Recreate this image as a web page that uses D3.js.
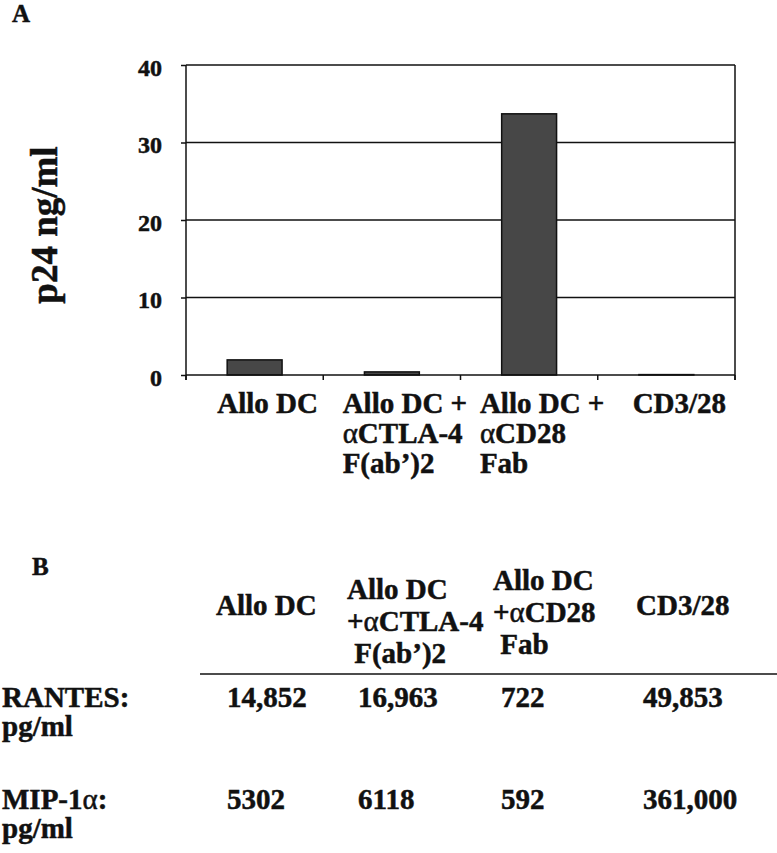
<!DOCTYPE html>
<html>
<head>
<meta charset="utf-8">
<script src="https://cdn.jsdelivr.net/npm/d3@7"></script>
<style>
  body { margin: 0; background: #fff; }
  svg { display: block; }
</style>
</head>
<body>
<script>
// panel A data
var categories = ["alloDC", "ctla4", "cd28", "cd3"];
var axisLabels = [["Allo DC"], ["Allo DC +", "αCTLA-4", "F(ab’)2"], ["Allo DC +", "αCD28", "Fab"], ["CD3/28"]];
var p24 = [1.95, 0.4, 33.7, 0.05];
var yTicks = [0, 10, 20, 30, 40];

// panel B data
var tableHeaders = [["Allo DC"], ["Allo DC", "+αCTLA-4", "\u00a0F(ab’)2"], ["Allo DC", "+αCD28", "\u00a0Fab"], ["CD3/28"]];
var rowLabels = [["RANTES:", "pg/ml"], ["MIP-1α:", "pg/ml"]];
var rantes = [14852, 16963, 722, 49853];
var mip1a = [5302, 6118, 592, 361000];

var width = 777, height = 853;
var serif = "'Liberation Serif', 'Times New Roman', serif";
var ink = "#111";

var svg = d3.select("body").append("svg")
    .attr("width", width)
    .attr("height", height)
    .attr("font-family", serif)
    .attr("font-weight", "bold")
    .attr("fill", ink);

svg.append("rect").attr("width", width).attr("height", height).attr("fill", "#fff");

// alpha is set in a plain (symbol-like) weight in the original
function fillText(sel, str) {
    str.split(/(α)/).forEach(function(part) {
        if (!part) return;
        var t = sel.append("tspan").text(part);
        if (part === "α") t.attr("font-weight", "normal");
    });
}

// ---------- A: bar chart ----------
var x = d3.scaleBand().domain(categories).range([186, 735]);
var y = d3.scaleLinear().domain([0, 40]).range([375, 65]);

svg.append("text").attr("x", 12).attr("y", 22).attr("font-size", 25).text("A");

svg.append("g").selectAll("line")
    .data(yTicks.slice(1))
    .join("line")
    .attr("x1", x.range()[0]).attr("x2", x.range()[1])
    .attr("y1", function(d) { return y(d); })
    .attr("y2", function(d) { return y(d); })
    .attr("stroke", ink).attr("stroke-width", 1.5);

svg.append("g").selectAll("rect")
    .data(p24)
    .join("rect")
    .attr("x", function(d, i) { return x(categories[i]) + x.bandwidth() * 0.3; })
    .attr("width", x.bandwidth() * 0.4)
    .attr("y", function(d) { return y(d); })
    .attr("height", function(d) { return y(0) - y(d); })
    .attr("fill", "#474747")
    .attr("stroke", ink).attr("stroke-width", 1.5);

var yAxis = svg.append("g")
    .attr("transform", "translate(" + x.range()[0] + ",0)")
    .call(d3.axisLeft(y).tickValues(yTicks).tickSize(5).tickPadding(19).tickSizeOuter(0));
yAxis.attr("font-family", serif).attr("font-size", 24);
yAxis.select(".domain").remove();
yAxis.selectAll(".tick line").attr("stroke", ink).attr("stroke-width", 1.5);
yAxis.selectAll(".tick text").attr("fill", ink).attr("dy", "0.42em");

// frame: left axis, right edge, baseline and category ticks
var bounds = categories.map(function(c) { return x(c); }).concat([x.range()[1]]);
svg.append("g").selectAll("line")
    .data([bounds[0], bounds[bounds.length - 1]])
    .join("line")
    .attr("x1", function(d) { return d; }).attr("x2", function(d) { return d; })
    .attr("y1", y(40)).attr("y2", y(0) + 5)
    .attr("stroke", ink).attr("stroke-width", 1.5);
svg.append("line")
    .attr("x1", x.range()[0]).attr("x2", x.range()[1])
    .attr("y1", y(0)).attr("y2", y(0))
    .attr("stroke", ink).attr("stroke-width", 1.5);
svg.append("g").selectAll("line")
    .data(bounds)
    .join("line")
    .attr("x1", function(d) { return d; }).attr("x2", function(d) { return d; })
    .attr("y1", y(0)).attr("y2", y(0) + 5)
    .attr("stroke", ink).attr("stroke-width", 1.5);

svg.append("g").selectAll("text")
    .data(axisLabels)
    .join("text")
    .attr("font-size", 29)
    .each(function(lines, i) {
        var t = d3.select(this);
        lines.forEach(function(line, j) {
            fillText(t.append("tspan").attr("x", 0).attr("y", 413 + j * 30), line);
        });
        var w = this.getBBox().width;
        var cx = x(categories[i]) + x.bandwidth() / 2;
        t.attr("transform", "translate(" + (cx - w / 2 + 13) + ",0)");
    });

svg.append("text")
    .attr("transform", "translate(57,225) rotate(-90)")
    .attr("text-anchor", "middle")
    .attr("font-size", 37)
    .text("p24 ng/ml");

// ---------- B: table ----------
var headX = d3.scaleOrdinal().domain(categories).range([216, 347, 493, 636]);
var headY = d3.scaleOrdinal().domain(categories).range([615, 599, 590, 615]);
var numX = d3.scaleOrdinal().domain(categories).range([227, 358, 501, 643]);
var rowY = d3.scaleOrdinal().domain([0, 1]).range([707, 809]);
var fmt = function(v) { return v >= 10000 ? d3.format(",")(v) : String(v); };

svg.append("text").attr("x", 32).attr("y", 575).attr("font-size", 25).text("B");

svg.append("g").selectAll("text")
    .data(tableHeaders)
    .join("text")
    .attr("font-size", 29)
    .each(function(lines, i) {
        var t = d3.select(this);
        var c = categories[i];
        lines.forEach(function(line, j) {
            fillText(t.append("tspan").attr("x", headX(c)).attr("y", headY(c) + j * 32), line);
        });
    });

svg.append("line")
    .attr("x1", 200).attr("x2", width)
    .attr("y1", 674).attr("y2", 674)
    .attr("stroke", ink).attr("stroke-width", 1.5);

svg.append("g").selectAll("text")
    .data(rowLabels)
    .join("text")
    .attr("font-size", 29)
    .each(function(lines, r) {
        var t = d3.select(this);
        lines.forEach(function(line, j) {
            fillText(t.append("tspan").attr("x", 2).attr("y", rowY(r) + j * 29), line);
        });
    });

[rantes, mip1a].forEach(function(values, r) {
    svg.append("g").selectAll("text")
        .data(values)
        .join("text")
        .attr("font-size", 29)
        .attr("x", function(d, i) { return numX(categories[i]); })
        .attr("y", rowY(r))
        .text(fmt);
});

// the scanned type is heavy; thicken the glyphs a little
svg.selectAll("text").attr("stroke", ink).attr("stroke-width", 0.5);
</script>
</body>
</html>
